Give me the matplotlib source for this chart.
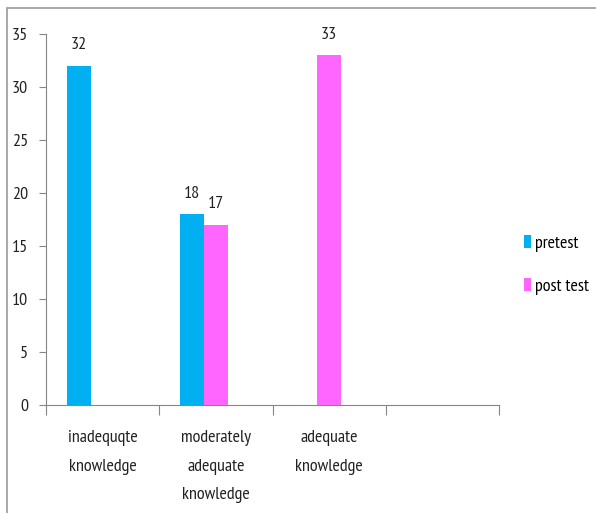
import numpy as np
import matplotlib
matplotlib.use("Agg")
import matplotlib.pyplot as plt
from matplotlib.patches import Rectangle

plt.rcParams['font.family'] = ['PT Sans Narrow', 'Roboto Condensed', 'Carlito', 'DejaVu Sans']

categories = ['inadequqte\nknowledge', 'moderately\nadequate\nknowledge', 'adequate\nknowledge', '']
pretest = [32, 18, np.nan, np.nan]
posttest = [np.nan, 17, 33, np.nan]

blue = '#00B0F0'
pink = '#FF66FF'
axis_grey = '#868686'
text_col = '#222222'

fig = plt.figure(figsize=(5.96, 5.13), dpi=100)
ax = fig.add_axes([46 / 596, 108 / 513, 453 / 596, 371 / 513])

x = np.arange(len(categories))
w = 0.212
# excel-style grouping: 3 slots per category, third one is empty
b1 = ax.bar(x - w, pretest, w, color=blue, label='pretest')
b2 = ax.bar(x, posttest, w, color=pink, label='post test')

for bars, vals in [(b1, pretest), (b2, posttest)]:
    for rect, v in zip(bars, vals):
        if np.isnan(v):
            continue
        ax.annotate(f'{v:g}', (rect.get_x() + rect.get_width() / 2, v),
                    xytext=(0, 9), textcoords='offset points',
                    ha='center', va='bottom', fontsize=13, color=text_col)

ax.set_xlim(-0.5, len(categories) - 0.5)
ax.set_ylim(0, 35)
ax.set_yticks(range(0, 36, 5))
ax.set_xticks(np.arange(-0.5, len(categories), 1.0))
ax.set_xticklabels([])
ax.set_xticks(x, minor=True)
ax.set_xticklabels(categories, minor=True, fontsize=13, color=text_col, linespacing=2.05)
ax.tick_params(axis='x', which='minor', length=0, pad=18)
ax.tick_params(axis='x', which='major', length=7, color=axis_grey, direction='out')
ax.tick_params(axis='y', length=5, color=axis_grey, labelsize=13, labelcolor=text_col, pad=8)

for s in ['top', 'right']:
    ax.spines[s].set_visible(False)
for s in ['left', 'bottom']:
    ax.spines[s].set_color(axis_grey)

ax.legend(loc='center left', bbox_to_anchor=(515 / 596, 248 / 513),
          bbox_transform=fig.transFigure, frameon=False, fontsize=13,
          handlelength=0.4, handleheight=0.75, handletextpad=0.2,
          labelspacing=1.45, borderpad=0)

# outer chart border
fig.patches.append(Rectangle((7 / 596, -0.1), 1.2, (513 - 8) / 513 + 0.1,
                             transform=fig.transFigure, fill=False,
                             edgecolor='#9a9a9a', linewidth=1.2))

fig.savefig('out.png', dpi=100)
